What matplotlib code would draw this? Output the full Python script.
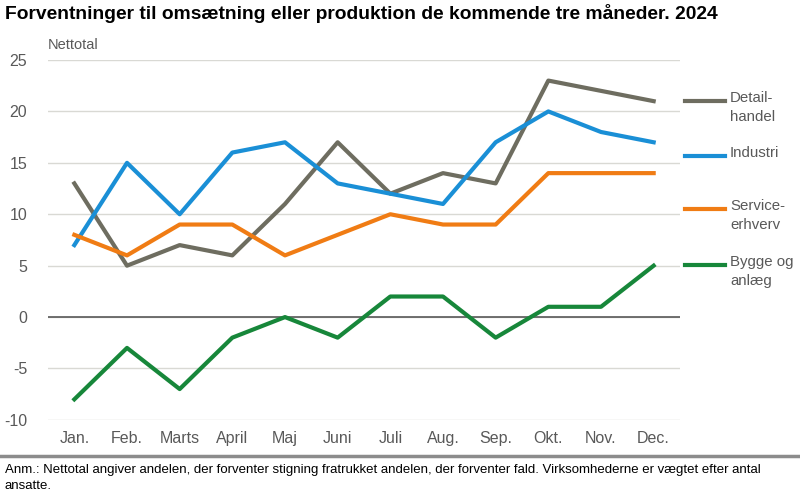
import matplotlib
matplotlib.use("Agg")
import matplotlib.pyplot as plt
from matplotlib.lines import Line2D

months = ["Jan.", "Feb.", "Marts", "April", "Maj", "Juni", "Juli", "Aug.", "Sep.", "Okt.", "Nov.", "Dec."]
detail = [13, 5, 7, 6, 11, 17, 12, 14, 13, 23, 22, 21]
industri = [7, 15, 10, 16, 17, 13, 12, 11, 17, 20, 18, 17]
service = [8, 6, 9, 9, 6, 8, 10, 9, 9, 14, 14, 14]
bygge = [-8, -3, -7, -2, 0, -2, 2, 2, -2, 1, 1, 5]
series_labels = ["Detail-\nhandel", "Industri", "Service-\nerhverv", "Bygge og\nanlæg"]
colors = ["#6e6d60", "#1a8fd6", "#f07c14", "#17873a"]

plt.rcParams["font.family"] = ["Liberation Sans", "DejaVu Sans"]

fig = plt.figure(figsize=(8, 4.94), dpi=100)
ax = fig.add_axes([0.06, 0.15, 0.79, 0.7285])
x = list(range(len(months)))
for vals, c in zip([detail, industri, service, bygge], colors):
    ax.plot(x, vals, color=c, lw=3, solid_joinstyle="round", zorder=3)

ax.set_xlim(-0.5, 11.5)
ax.set_ylim(-10, 25)
ax.set_yticks(range(-10, 26, 5))
ax.set_yticklabels([str(v) for v in range(-10, 26, 5)])
ax.set_xticks(x)
ax.set_xticklabels(months)
ax.grid(axis="y", color="#d9d9d4", lw=1)
ax.axhline(0, color="#595959", lw=1.2, zorder=2)
for s in ax.spines.values():
    s.set_visible(False)
ax.tick_params(length=0, labelsize=11.5, colors="#595959", pad=8)
ax.tick_params(axis="y", pad=15)
ax.set_axisbelow(True)

fig.text(0.006, 0.972, "Forventninger til omsætning eller produktion de kommende tre måneder. 2024",
         fontsize=13.9, fontweight="bold", va="center", color="#000000")
fig.text(0.06, 0.908, "Nettotal", fontsize=10.5, color="#595959", va="center")

# custom legend
leg_y = [101, 156, 209, 265]
for lab, c, yy in zip(series_labels, colors, leg_y):
    yf = 1 - yy / 494
    fig.add_artist(Line2D([685 / 800, 725 / 800], [yf, yf], color=c, lw=3))
    fig.text(730 / 800, yf + 0.021, lab, fontsize=10.8, color="#595959", va="top", linespacing=1.45)

fig.add_artist(Line2D([0, 1], [1 - 456 / 494, 1 - 456 / 494], color="#8c8c8c", lw=2.5))
fig.text(0.006, 1 - 464 / 494,
         "Anm.: Nettotal angiver andelen, der forventer stigning fratrukket andelen, der forventer fald. Virksomhederne er vægtet efter antal\nansatte.",
         fontsize=9.5, va="top", color="#000000", linespacing=1.4)
fig.savefig("out.png", dpi=100)
